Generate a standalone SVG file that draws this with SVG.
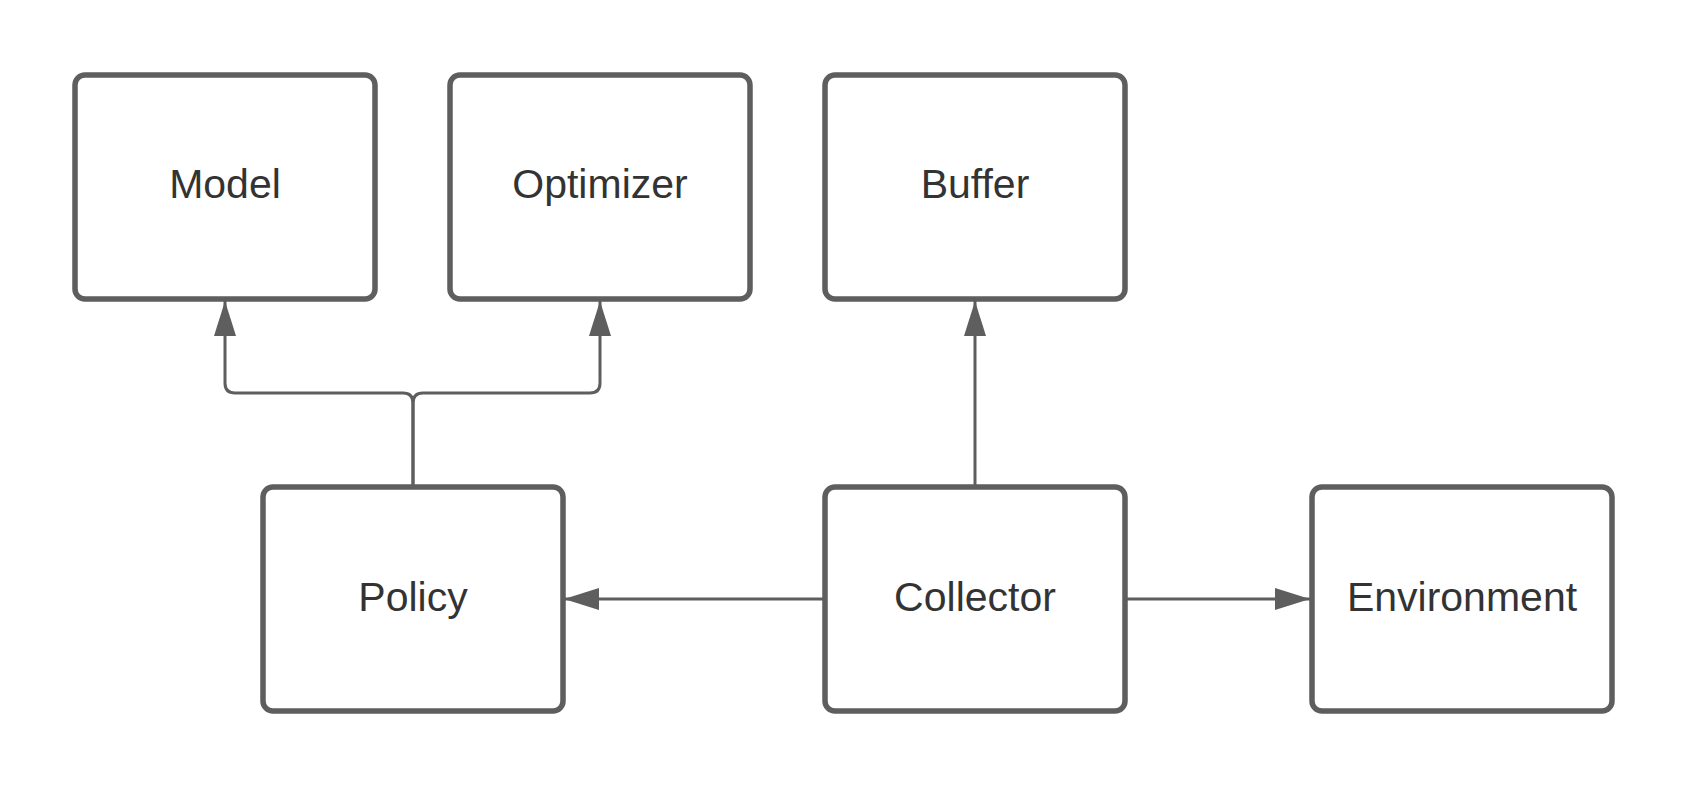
<svg xmlns="http://www.w3.org/2000/svg" width="1688" height="788" viewBox="0 0 1688 788">
<style>
.box{fill:#fff;stroke:#5e5e5e;stroke-width:5.5}
.lbl{font-family:"Liberation Sans",Arial,sans-serif;font-size:41px;fill:#333;text-anchor:middle}
.edge{fill:none;stroke:#5e5e5e;stroke-width:3}
</style>
<defs>
<marker id="arr" viewBox="0 0 35 22" refX="35" refY="11" markerWidth="35" markerHeight="22" markerUnits="userSpaceOnUse" orient="auto">
<path d="M0,0 L35,11 L0,22 Z" fill="#5e5e5e"/>
</marker>
</defs>
<rect width="1688" height="788" fill="#fff"/>
<g id="connectors">
<path class="edge" d="M413,487 V403 Q413,393 403,393 H235 Q225,393 225,383 V301" marker-end="url(#arr)"/>
<path class="edge" d="M413,487 V403 Q413,393 423,393 H590 Q600,393 600,383 V301" marker-end="url(#arr)"/>
<path class="edge" d="M975,487 V301" marker-end="url(#arr)"/>
<path class="edge" d="M825,599 H564" marker-end="url(#arr)"/>
<path class="edge" d="M1125,599 H1310" marker-end="url(#arr)"/>
</g>
<g id="model"><rect class="box" x="75" y="75" width="300" height="224" rx="10"/><text class="lbl" x="225" y="198">Model</text></g>
<g id="optimizer"><rect class="box" x="450" y="75" width="300" height="224" rx="10"/><text class="lbl" x="600" y="198">Optimizer</text></g>
<g id="buffer"><rect class="box" x="825" y="75" width="300" height="224" rx="10"/><text class="lbl" x="975" y="198">Buffer</text></g>
<g id="policy"><rect class="box" x="263" y="487" width="300" height="224" rx="10"/><text class="lbl" x="413" y="611">Policy</text></g>
<g id="collector"><rect class="box" x="825" y="487" width="300" height="224" rx="10"/><text class="lbl" x="975" y="611">Collector</text></g>
<g id="environment"><rect class="box" x="1312" y="487" width="300" height="224" rx="10"/><text class="lbl" x="1462" y="611">Environment</text></g>
</svg>
